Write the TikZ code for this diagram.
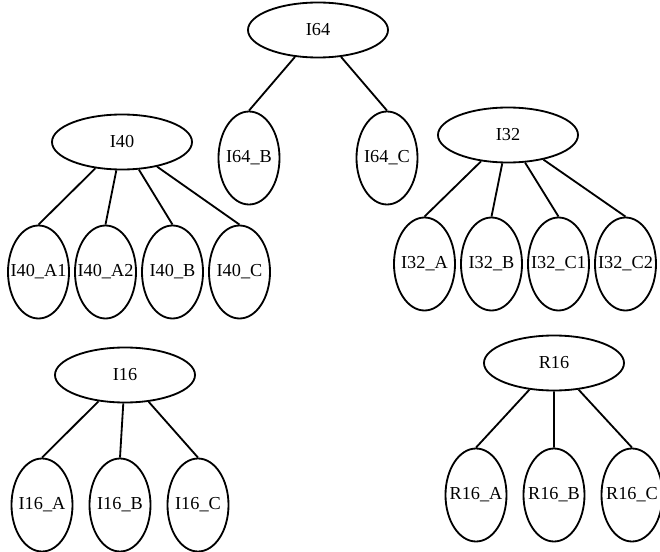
\documentclass[tikz,border=0pt]{standalone}
\usepackage{fontspec}
\setmainfont{Liberation Serif}
\usetikzlibrary{shapes.geometric}

\begin{document}
\begin{tikzpicture}[level distance=32.5mm, line width=1.3pt, child anchor=north]
        \tikzstyle{every node}=[draw, ellipse, inner sep=0pt, minimum width=35mm, minimum height=13.75mm, font=\fontsize{13}{15}\selectfont]
        \tikzstyle{level 1}=[every node/.append style={inner xsep=-6pt, minimum width=15.25mm, minimum height=23.25mm}]

        \useasboundingbox (0,0) rectangle (16.5,-13.8);

% the five operand trees

        \node (i64) at (7.95,-0.75) {I64} [sibling distance=34.5mm, level distance=32mm]
            child {node (i64b) {I64\_B}}
            child {node (i64c) {I64\_C}};

        \node (i40) at (3.05,-3.55) {I40} [sibling distance=16.75mm]
            child[xshift=4.25mm] {node (i40a1) {I40\_A1}}
            child[xshift=4.25mm] {node (i40a2) {I40\_A2}}
            child[xshift=4.25mm] {node (i40b) {I40\_B}}
            child[xshift=4.25mm] {node (i40c) {I40\_C}};

        \node (i32) at (12.7,-3.375) {I32} [sibling distance=16.75mm, level distance=32.25mm]
            child[xshift=4.25mm] {node (i32a) {I32\_A}}
            child[xshift=4.25mm] {node (i32b) {I32\_B}}
            child[xshift=4.25mm] {node (i32c1) {I32\_C1}}
            child[xshift=4.25mm] {node (i32c2) {I32\_C2}};

        \node (i16) at (3.125,-9.375) {I16} [sibling distance=19.5mm]
            child[xshift=-1.25mm] {node (i16a) {I16\_A}}
            child[xshift=-1.25mm] {node (i16b) {I16\_B}}
            child[xshift=-1.25mm] {node (i16c) {I16\_C}};

        \node (r16) at (13.85,-9.075) {R16} [sibling distance=19.5mm, level distance=33mm]
            child {node (r16a) {R16\_A}}
            child {node (r16b) {R16\_B}}
            child {node (r16c) {R16\_C}};

    \end{tikzpicture}
\end{document}
